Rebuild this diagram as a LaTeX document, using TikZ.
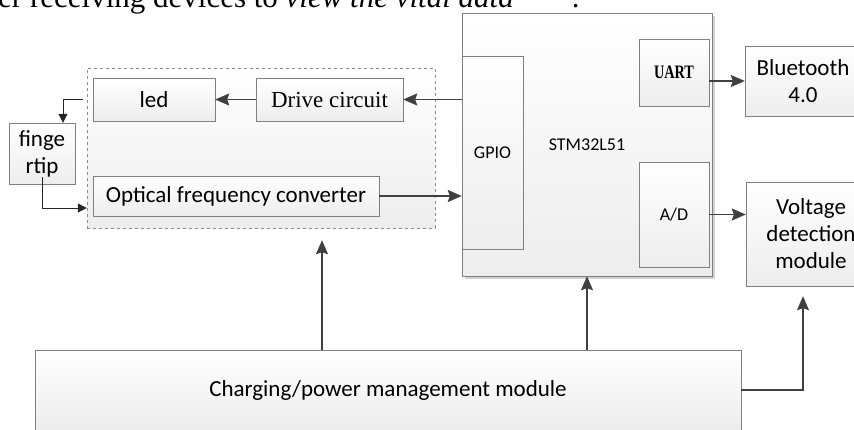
\documentclass[tikz,border=0pt]{standalone}
\usepackage{fontspec}
\setmainfont{Liberation Serif}
\newfontfamily\carl{Carlito}
\newfontfamily\uartfont[FakeStretch=0.75]{Liberation Serif}
\usetikzlibrary{arrows.meta,calc,shadows}

\tikzset{
  blk/.style={draw=gray, top color=white, bottom color=gray!14, inner sep=0pt,
    align=center, font=\carl\fontsize{23}{27}\selectfont},
  small/.style={font=\carl\fontsize{18}{21}\selectfont},
  conn/.style={draw=black!75, line width=1.6pt,
    -{Stealth[length=14pt,width=12pt,inset=2pt]}},
  sig/.style={draw=black!85, line width=0.8pt, -{Triangle[length=9pt,width=9pt]}}
}

\begin{document}
\begin{tikzpicture}[x=1pt,y=-1pt]
    \useasboundingbox (0,0) rectangle (854,429);

    % --- Szoveg a kep tetejen ---
    \node[anchor=base west, inner sep=0pt, font=\fontsize{31}{33}\selectfont] (caption) at (-2,7)
        {er receiving devices to \textit{view the vital data}\hspace{58pt}.};

    % --- Szenzor resz (szaggatott keret) ---
    \node[blk, dashed, draw=gray!90, minimum width=348pt, minimum height=160pt] (sensor) at (261,148) {};
    \node[blk, minimum width=122pt, minimum height=43pt] (led) at (154,99.5) {led};
    \node[blk, minimum width=147pt, minimum height=43pt, font=\fontsize{23}{27}\selectfont] (drive) at (329.5,99.5) {Drive circuit};
    \node[blk, minimum width=286pt, minimum height=40pt] (optic) at (236,196) {Optical frequency converter};
    \node[blk, minimum width=66pt, minimum height=61pt] (tip) at (42,153.5) {finge\\rtip};

    % --- Mikrokontroller ---
    \node[blk, small, minimum width=250pt, minimum height=263pt,
          drop shadow={shadow xshift=3pt, shadow yshift=-3pt, fill=gray!35, opacity=1}] (stm) at (587,144.5) {STM32L51};
    \node[blk, small, minimum width=61pt, minimum height=193pt] (gpio) at (492.5,152.5) {GPIO};
    \node[blk, minimum width=70pt, minimum height=67pt, font=\uartfont\bfseries\fontsize{19}{22}\selectfont] (uart) at (674,72.5) {UART};
    \node[blk, small, minimum width=70pt, minimum height=105pt] (ad) at (674,214.5) {A/D};

    % --- Kulso modulok ---
    \node[blk, minimum width=116pt, minimum height=70pt] (bt) at (803,81) {Bluetooth\\4.0};
    \node[blk, minimum width=130pt, minimum height=104pt] (volt) at (811,234) {Voltage\\detection\\module};
    \node[blk, minimum width=706pt, minimum height=80pt] (charge) at (388,390) {Charging/power management module};

    % Jelutak
    \draw[conn] (drive.west) -- (led.east);
    \draw[conn] (drive.east -| gpio.west) -- (drive.east);
    \draw[conn] (optic.east) -- (optic.east -| gpio.west);
    \draw[conn] (bt.west -| uart.east) -- (bt.west);
    \draw[conn] (ad.east) -- (ad.east -| volt.west);

    % Ujjbegy hurok
    \draw[sig] ($(sensor.west |- led.west)+(-4,0)$) -| ([xshift=21pt]tip.north);
    \draw[sig] ([yshift=7pt]tip.south) |- ($(sensor.west |- optic.west)+(0,12)$);

    % Tapellatas
    \draw[conn] ([xshift=-66pt]charge.north) -- ([xshift=61pt,yshift=-12pt]sensor.south);
    \draw[conn] (charge.north -| stm.south) -- (stm.south);
    \draw[conn] (charge.east) -| ([xshift=-8pt,yshift=-10pt]volt.south);

\end{tikzpicture}
\end{document}
